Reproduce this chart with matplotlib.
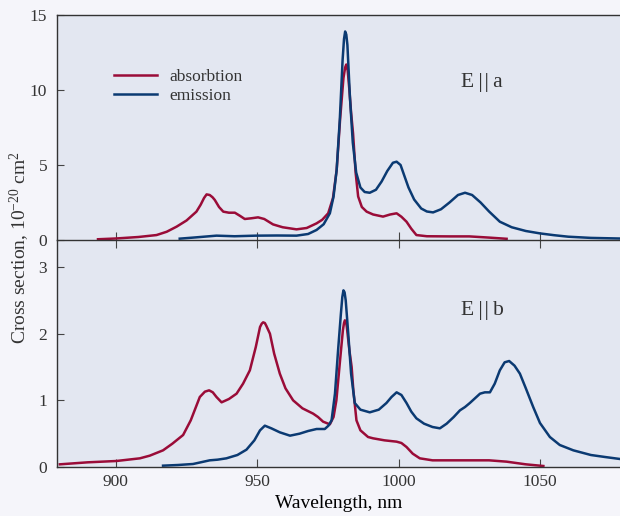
"""
Absorption and emission cross sections for two polarisations (E||a, E||b).
"""

import matplotlib

matplotlib.use("Agg")
import matplotlib.pyplot as plt

# ---- data ---------------------------------------------------------------
# top panel, E||a
a_abs_wl = [893.7, 900, 908, 914.4, 918, 921.5, 925, 928.5, 930, 931.2, 932.1, 933.2, 934.2,
            935, 936.5, 938, 940, 942.1, 944, 945.6, 948, 950.3, 952.5, 955.6, 959, 963.9,
            967.5, 971, 973, 975.1, 976.8, 978.1, 979.3, 980.5, 981.1, 981.5, 982, 982.6,
            983.2, 983.9, 984.8, 985.7, 987, 988.7, 991, 994.5, 997, 999.3, 1001, 1002.8,
            1004.5, 1006.3, 1010, 1018, 1025, 1032, 1038.2]
a_abs_val = [0.05, 0.1, 0.2, 0.33, 0.55, 0.89, 1.3, 1.89, 2.35, 2.8, 3.04, 3.0, 2.85,
             2.67, 2.2, 1.89, 1.82, 1.82, 1.6, 1.4, 1.45, 1.51, 1.4, 1.04, 0.85, 0.71,
             0.8, 1.11, 1.35, 1.78, 2.8, 4.67, 8.0, 10.8, 11.5, 11.7, 11.3, 10.0,
             8.5, 7.1, 4.5, 2.9, 2.2, 1.89, 1.7, 1.56, 1.7, 1.78, 1.55, 1.22,
             0.75, 0.33, 0.25, 0.24, 0.24, 0.16, 0.08]

a_em_wl = [922.6, 928, 935.6, 942, 949.6, 957, 963.9, 968, 971, 973.5, 975.7, 977, 978.1,
           979.2, 980.2, 980.7, 981.1, 981.5, 981.9, 982.8, 983.8, 985, 986.5, 988, 989.8,
           992, 994, 996, 998, 999.3, 1000.7, 1002, 1003.5, 1005.5, 1008, 1010, 1012.2,
           1015, 1018, 1021, 1023.5, 1026, 1029, 1032, 1035.8, 1040, 1045, 1050, 1055,
           1060, 1068, 1078]
a_em_val = [0.09, 0.17, 0.29, 0.25, 0.29, 0.3, 0.29, 0.4, 0.67, 1.05, 1.78, 2.9, 4.67,
            8.0, 12.0, 13.4, 13.9, 13.7, 13.0, 9.5, 6.5, 4.5, 3.5, 3.2, 3.15,
            3.35, 3.9, 4.6, 5.15, 5.22, 5.0, 4.3, 3.5, 2.7, 2.1, 1.9, 1.84,
            2.05, 2.5, 3.0, 3.15, 3.0, 2.5, 1.9, 1.22, 0.85, 0.6, 0.44, 0.32,
            0.22, 0.14, 0.1]

# bottom panel, E||b
b_abs_wl = [880.2, 890, 900.2, 908.5, 912, 916.7, 920, 923.8, 926.5, 929.7, 931.5, 933,
            934.3, 935.6, 937.4, 940, 942.7, 945, 947.4, 949.5, 951, 951.6, 952.1, 952.7,
            953.2, 954.5, 956, 958, 960, 962.7, 966, 969.8, 971.5, 973.3, 975.7, 977, 978,
            979.3, 980.3, 980.7, 981, 981.4, 981.7, 982.6, 983.4, 984, 985.1, 986.5, 989.2,
            991, 995, 999.3, 1001, 1002.8, 1005, 1007.5, 1012, 1024, 1032, 1038.2, 1045,
            1051.2]
b_abs_val = [0.04, 0.07, 0.09, 0.13, 0.17, 0.25, 0.35, 0.48, 0.7, 1.05, 1.13, 1.15,
             1.12, 1.05, 0.97, 1.02, 1.1, 1.25, 1.45, 1.8, 2.1, 2.15, 2.17, 2.16,
             2.12, 2.0, 1.7, 1.4, 1.18, 1.0, 0.88, 0.8, 0.75, 0.68, 0.64, 0.75, 1.0,
             1.6, 2.05, 2.16, 2.2, 2.18, 2.1, 1.75, 1.5, 1.15, 0.7, 0.55, 0.45,
             0.43, 0.4, 0.38, 0.36, 0.3, 0.2, 0.13, 0.1, 0.1, 0.1, 0.08, 0.04,
             0.015]

b_em_wl = [916.7, 922, 927.3, 930, 933.2, 936, 939.1, 943, 946.2, 949, 951, 952.7, 955,
           958, 961.6, 965, 968, 971, 973.9, 975.2, 976.3, 977.5, 978.6, 979.6, 980.1,
           980.5, 980.9, 981.3, 982.2, 983.2, 984.5, 986.5, 989.8, 993, 995.7, 997.5,
           999.3, 1001, 1002.8, 1004.5, 1006.3, 1009, 1012, 1014.6, 1017, 1019.5, 1021.7,
           1023.5, 1025.2, 1027, 1028.8, 1030.5, 1032.3, 1034, 1035.8, 1037.5, 1039.1,
           1041, 1042.9, 1045, 1047.6, 1050, 1053.5, 1057, 1061.8, 1068, 1073, 1078.3]
b_em_val = [0.02, 0.03, 0.045, 0.07, 0.1, 0.11, 0.13, 0.18, 0.26, 0.4, 0.55, 0.62, 0.58,
            0.52, 0.47, 0.5, 0.54, 0.57, 0.57, 0.62, 0.7, 1.1, 1.75, 2.3, 2.55,
            2.65, 2.62, 2.5, 2.0, 1.4, 0.96, 0.86, 0.82, 0.86, 0.96, 1.05,
            1.12, 1.08, 0.96, 0.83, 0.73, 0.65, 0.6, 0.58, 0.65, 0.75, 0.85,
            0.9, 0.96, 1.03, 1.1, 1.12, 1.12, 1.25, 1.45, 1.57, 1.59,
            1.52, 1.4, 1.18, 0.9, 0.66, 0.45, 0.33, 0.25, 0.18, 0.15, 0.12]

x_ticks = [900, 950, 1000, 1050]
top_yticks = [0, 5, 10, 15]
bottom_yticks = [0, 1, 2, 3]

RED = "#9a0c38"
BLUE = "#0b3a72"
TEXT = "#333333"
FIG_BG = "#f5f5fa"
AX_BG = "#e3e7f1"

plt.rcParams["font.family"] = ["Liberation Serif", "DejaVu Serif"]
plt.rcParams["mathtext.fontset"] = "custom"
plt.rcParams["mathtext.rm"] = "Liberation Serif"
plt.rcParams["mathtext.it"] = "Liberation Serif:italic"
plt.rcParams["text.color"] = TEXT
plt.rcParams["xtick.color"] = "#444444"
plt.rcParams["ytick.color"] = "#444444"
plt.rcParams["xtick.labelcolor"] = TEXT
plt.rcParams["ytick.labelcolor"] = TEXT
plt.rcParams["lines.solid_joinstyle"] = "round"


def style_axis(axis, yticks, ylim):
    """
    Shared look for both panels.
    """
    axis.set_facecolor(AX_BG)
    axis.set_xlim(879.2, 1078.3)
    axis.set_ylim(*ylim)
    axis.set_xticks(x_ticks)
    axis.set_yticks(yticks)
    axis.spines["right"].set_visible(False)
    for side in ("left", "bottom", "top"):
        axis.spines[side].set_color("#333333")
        axis.spines[side].set_linewidth(1.0)
    axis.tick_params(axis="y", direction="in", length=5, width=0.8, pad=7, labelsize=12.5)


fig = plt.figure(figsize=(6.2, 5.16), dpi=100, facecolor=FIG_BG)
ax_top = fig.add_axes([57 / 620, 1 - 240 / 516, 563 / 620, 225 / 516])
ax_bot = fig.add_axes([57 / 620, 1 - 467 / 516, 563 / 620, 227 / 516])

style_axis(ax_top, top_yticks, (0, 15))
style_axis(ax_bot, bottom_yticks, (0, 227 / (200 / 3)))
ax_bot.spines["top"].set_visible(False)
ax_bot.set_zorder(0)
ax_top.set_zorder(1)

ax_top.tick_params(axis="x", direction="inout", length=11, width=0.8, labelbottom=False)
ax_bot.tick_params(axis="x", direction="in", length=6, width=0.8, pad=5, labelsize=12.5)

ax_top.plot(a_abs_wl, a_abs_val, color=RED, lw=1.8, label="absorbtion", clip_on=False)
ax_top.plot(a_em_wl, a_em_val, color=BLUE, lw=1.8, label="emission", clip_on=False)
ax_bot.plot(b_abs_wl, b_abs_val, color=RED, lw=1.8)
ax_bot.plot(b_em_wl, b_em_val, color=BLUE, lw=1.8)

ax_top.legend(loc="upper left", bbox_to_anchor=(0.085, 0.80), frameon=False,
              fontsize=12.5, handlelength=2.5, handletextpad=0.7, labelspacing=0.15,
              borderpad=0)

# thin gaps around the bars, as in the original typesetting
ax_top.text(1029.5, 10.5, "E\u2009|\u200a|\u2009a", fontsize=15.5, ha="center", va="center")
ax_bot.text(1029.7, 2.35, "E\u2009|\u200a|\u2009b", fontsize=15.5, ha="center", va="center")

ax_bot.set_xlabel("Wavelength, nm", fontsize=14, labelpad=4)
fig.text(0.032, 0.52, r"Cross section, 10$^{-20}$ cm$^{2}$", rotation=90,
         ha="center", va="center", fontsize=14)

fig.savefig("out.png", dpi=100, facecolor=FIG_BG)
